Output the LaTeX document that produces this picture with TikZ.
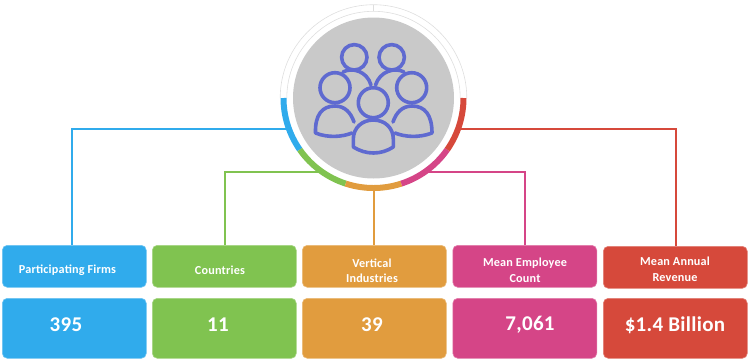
\documentclass[tikz,border=0pt]{standalone}
\usepackage{fontspec}
\usetikzlibrary{calc}
\setmainfont{Carlito}[LetterSpace=1.5]
\definecolor{cblue}{HTML}{30ABEC}
\definecolor{cgreen}{HTML}{80C350}
\definecolor{corange}{HTML}{E19C3E}
\definecolor{cpink}{HTML}{D54587}
\definecolor{cred}{HTML}{D6493B}
\definecolor{cgray}{HTML}{C9C9C9}
\definecolor{cicon}{HTML}{5F6AD0}
\tikzset{
  box/.style={rounded corners=5pt,draw=#1!70!white,fill=#1,line width=0.6pt,minimum width=144pt,inner sep=0pt,anchor=north west},
  headbox/.style={box=#1,minimum height=42pt},
  valbox/.style={box=#1,minimum height=60pt},
  headtext/.style={text=white,font=\bfseries\fontsize{12.2}{15.5}\selectfont,align=center,inner sep=0pt},
  valtext/.style={text=white,font=\bfseries\fontsize{21}{24}\selectfont,inner sep=0pt},
  link/.style={draw=#1,line width=2pt},
  seg/.style={draw=#1,line width=6pt},
  thinring/.style={draw=black!13,line width=0.6pt},
  person/.style={draw=cicon,line width=3.6pt,line cap=round,line join=round},
}
\begin{document}
\begin{tikzpicture}[x=1pt,y=1pt,yscale=-1]
\useasboundingbox (0,0) rectangle (748,360);
\coordinate (c) at (373.5,98);
\node[headbox=cblue] (h1) at (2,245) {};
\node[headbox=cgreen] (h2) at (152,245) {};
\node[headbox=corange] (h3) at (302,245) {};
\node[headbox=cpink] (h4) at (452.5,245) {};
\node[headbox=cred] (h5) at (603,246) {};
\node[valbox=cblue] (v1) at (2,298) {};
\node[valbox=cgreen] (v2) at (152,298) {};
\node[valbox=corange] (v3) at (302,298) {};
\node[valbox=cpink] (v4) at (452.5,298) {};
\node[valbox=cred] (v5) at (603,298) {};
\node[circle,fill=cgray,minimum size=161pt,inner sep=0pt] (disc) at (c) {};
\node[circle,minimum size=180pt,inner sep=0pt] (ring) at (c) {};
\draw[link=cblue] (ring.200) -| ([xshift=-2pt]h1.north);
\draw[link=cgreen] (ring.235) -| ([xshift=1pt]h2.north);
\draw[link=corange] (ring.south) -- (ring.south |- h3.north);
\draw[link=cpink] (ring.305) -| (h4.north);
\draw[link=cred] (ring.340) -| ([xshift=1pt]h5.north);
% ring
\draw[thinring] ($(c)+(180:93.3)$) arc[start angle=180,end angle=360,radius=93.3];
\draw[thinring] ($(c)+(180:86.7)$) arc[start angle=180,end angle=360,radius=86.7];
\draw[thinring] ($(c)+(270:93.3)$) -- ($(c)+(270:86.7)$);
\draw[seg=cblue] ($(c)+(180:90)$) arc[start angle=180,end angle=145,radius=90];
\draw[seg=cgreen] ($(c)+(145:90)$) arc[start angle=145,end angle=108,radius=90];
\draw[seg=corange] ($(c)+(108:90)$) arc[start angle=108,end angle=72,radius=90];
\draw[seg=cpink] ($(c)+(72:90)$) arc[start angle=72,end angle=35,radius=90];
\draw[seg=cred] ($(c)+(35:90)$) arc[start angle=35,end angle=0,radius=90];
% people icon
\draw[person] (354.3,57.3) circle[radius=12.7];
\draw[person] (391.7,57.3) circle[radius=12.7];
\draw[person] (343,72) .. controls (352,67) and (367,71) .. (371,85);
\draw[person] (375.5,85) .. controls (380,71) and (395,67) .. (404,72);
\draw[person] (335,87.7) circle[radius=15];
\draw[person] (411.7,87.7) circle[radius=15];
\draw[person] (373.3,102.7) circle[radius=15];
\draw[person] (354,122) .. controls (351,113) and (345,106) .. (335,106) .. controls (322,106) and (315,115) .. (315.5,133) .. controls (328,138) and (342,137) .. (352,133);
\draw[person] (393,122) .. controls (396,113) and (402,106) .. (412,106) .. controls (425,106) and (432,115) .. (432,133) .. controls (419,138) and (405,137) .. (395,133);
\draw[person] (353.3,147) -- (353.3,139) .. controls (353.3,128) and (362,120) .. (373.3,120) .. controls (385,120) and (393.3,128) .. (393.3,139) -- (393.3,147) .. controls (381,155) and (366,155) .. (353.3,147);
% texts
\node[headtext] (t1) at (67.5,270) {Participating Firms};
\node[headtext] (t2) at (220,270) {Countries};
\node[headtext] (t3) at (372,270.5) {Vertical\\Industries};
\node[headtext] (t4) at (525,270.5) {Mean Employee\\Count};
\node[headtext] (t5) at (675,269.5) {Mean Annual\\Revenue};
\node[valtext] (n1) at (66,325) {395};
\node[valtext] (n2) at (218,325) {11};
\node[valtext] (n3) at (372,325) {39};
\node[valtext] (n4) at (530,325) {7,061};
\node[valtext] (n5) at (675,325) {\$1.4 Billion};
\end{tikzpicture}
\end{document}
